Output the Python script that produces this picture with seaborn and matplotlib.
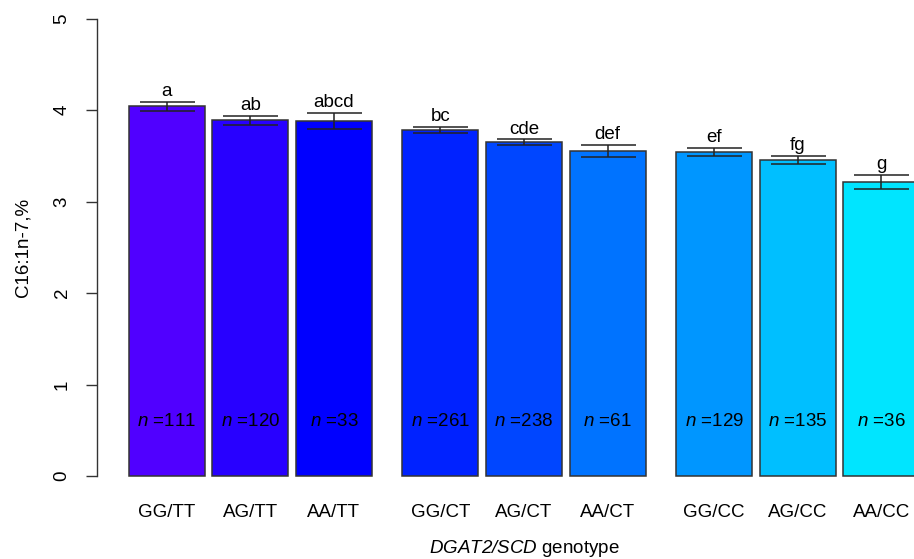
import numpy as np
import pandas as pd
import matplotlib
matplotlib.use("Agg")
import matplotlib.pyplot as plt
import seaborn as sns

# data
genotypes = ["GG/TT", "AG/TT", "AA/TT",
             "GG/CT", "AG/CT", "AA/CT",
             "GG/CC", "AG/CC", "AA/CC"]
scd_group = [0, 0, 0, 1, 1, 1, 2, 2, 2]
means = [4.04, 3.89, 3.88, 3.785, 3.646, 3.556, 3.54, 3.453, 3.217]
se = [0.05, 0.05, 0.089, 0.035, 0.033, 0.065, 0.046, 0.046, 0.078]
letters = ["a", "ab", "abcd", "bc", "cde", "def", "ef", "fg", "g"]
n_obs = [111, 120, 33, 261, 238, 61, 129, 135, 36]
bar_colors = ["#5000FF", "#2800FF", "#0000FF", "#0022FF", "#0046FF",
              "#0073FF", "#0096FF", "#00BFFF", "#00E5FF"]

sns.set_style("white")
plt.rcParams["font.family"] = ["Liberation Sans", "DejaVu Sans"]
# math parts are only used for italic bits (n, gene names), digits included
plt.rcParams["mathtext.fontset"] = "custom"
plt.rcParams["mathtext.rm"] = "Liberation Sans:italic"
plt.rcParams["mathtext.it"] = "Liberation Sans:italic"
plt.rcParams["text.color"] = "black"
plt.rcParams["axes.labelcolor"] = "black"
plt.rcParams["xtick.color"] = "black"
plt.rcParams["ytick.color"] = "black"

# bar positions: 1.1 pitch inside a group, extra 0.3 gap between groups
pos = [i * 1.1 + g * 0.3 for i, g in enumerate(scd_group)]
df = pd.DataFrame({"pos": pos, "mean": means, "genotype": genotypes})

fig = plt.figure(figsize=(9.14, 5.59), dpi=100)
ax = fig.add_axes([97 / 914, 1 - 494.3 / 559, (951 - 97) / 914, 494 / 559])

sns.barplot(data=df, x="pos", y="mean", hue="genotype", palette=bar_colors,
            native_scale=True, dodge=False, width=1 / 1.1, errorbar=None,
            saturation=1, edgecolor="#333333", linewidth=1.1, legend=False,
            ax=ax)

ax.errorbar(pos, means, yerr=se, fmt="none", ecolor="#222222",
            elinewidth=1.1, capsize=19.8, capthick=1.1)

for x, m, s, lab, n in zip(pos, means, se, letters, n_obs):
    ax.text(x, m + s + 0.06, lab, ha="center", va="baseline", fontsize=13.5)
    ax.text(x, 0.6, r"$n$ =" + str(n), ha="center", va="center",
            fontsize=13.5)

ax.set_xlim(-0.916, 10.316)
ax.set_ylim(-0.2, 5.2)
ax.set_xticks(pos)
ax.set_xticklabels(genotypes, fontsize=13.5)
ax.set_yticks(range(6))
ax.set_yticklabels([str(v) for v in range(6)], fontsize=13.5, rotation=90,
                   va="center")
ax.tick_params(axis="x", length=0, pad=7)
ax.tick_params(axis="y", direction="out", length=8, width=1.0,
               color="#333333", pad=11, left=True)

for side in ["top", "right", "bottom"]:
    ax.spines[side].set_visible(False)
ax.spines["left"].set_bounds(0, 5)
ax.spines["left"].set_color("#333333")
ax.spines["left"].set_linewidth(1.0)

ax.set_xlabel(r"$DGAT2/SCD$ genotype", fontsize=13.5, labelpad=12)
ax.set_ylabel("C16:1n-7,%", fontsize=13.5, labelpad=16)

fig.savefig("out.png", dpi=100)
